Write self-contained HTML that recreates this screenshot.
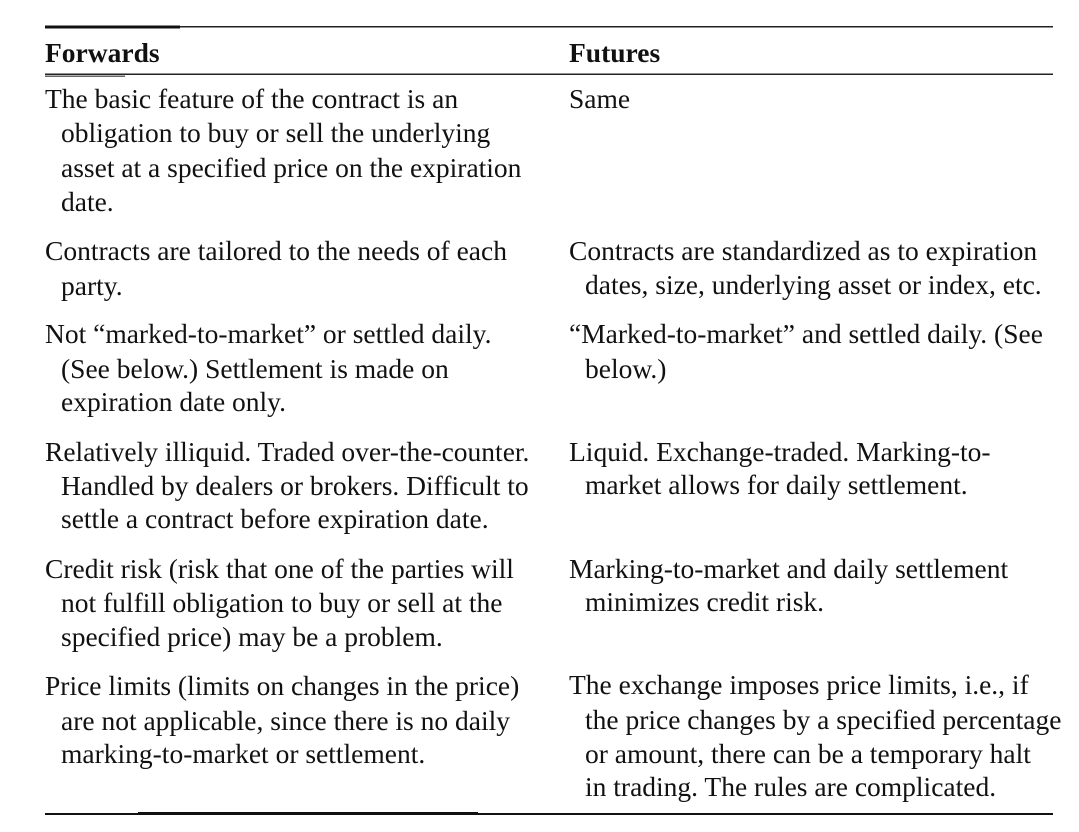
<!DOCTYPE html>
<html><head><meta charset="utf-8"><style>
html,body{margin:0;padding:0;background:#fff;width:1079px;height:832px;overflow:hidden}
svg text{font-family:"Liberation Serif",serif;font-size:27.5px;fill:#111}
</style></head><body>
<svg width="1079" height="832" xmlns="http://www.w3.org/2000/svg">
<rect x="45" y="26" width="1008" height="1.5" fill="#222"/>
<rect x="45" y="25.5" width="135" height="3" fill="#111"/>
<rect x="45" y="73.5" width="1008" height="1.5" fill="#222"/>
<rect x="45" y="75.5" width="80" height="1.5" fill="#666"/>
<rect x="45" y="813" width="1008" height="2" fill="#111"/>
<rect x="138" y="812" width="340" height="3" fill="#111"/>

<text x="45" y="62" font-weight="bold">Forwards</text>
<text x="569" y="62" font-weight="bold">Futures</text>

<text x="45" y="108">The basic feature of the contract is an</text>
<text x="61" y="142">obligation to buy or sell the underlying</text>
<text x="61" y="177">asset at a specified price on the expiration</text>
<text x="61" y="211">date.</text>
<text x="569" y="108">Same</text>

<text x="45" y="260">Contracts are tailored to the needs of each</text>
<text x="61" y="295">party.</text>
<text x="569" y="260">Contracts are standardized as to expiration</text>
<text x="585" y="294">dates, size, underlying asset or index, etc.</text>

<text x="45" y="343">Not “marked-to-market” or settled daily.</text>
<text x="61" y="378">(See below.) Settlement is made on</text>
<text x="61" y="411">expiration date only.</text>
<text x="569" y="343">“Marked-to-market” and settled daily. (See</text>
<text x="585" y="378">below.)</text>

<text x="45" y="461">Relatively illiquid. Traded over-the-counter.</text>
<text x="61" y="495">Handled by dealers or brokers. Difficult to</text>
<text x="61" y="528">settle a contract before expiration date.</text>
<text x="569" y="461">Liquid. Exchange-traded. Marking-to-</text>
<text x="585" y="494">market allows for daily settlement.</text>

<text x="45" y="578">Credit risk (risk that one of the parties will</text>
<text x="61" y="612">not fulfill obligation to buy or sell at the</text>
<text x="61" y="646">specified price) may be a problem.</text>
<text x="569" y="578">Marking-to-market and daily settlement</text>
<text x="585" y="611">minimizes credit risk.</text>

<text x="45" y="695">Price limits (limits on changes in the price)</text>
<text x="61" y="730">are not applicable, since there is no daily</text>
<text x="61" y="763">marking-to-market or settlement.</text>
<text x="569" y="694">The exchange imposes price limits, i.e., if</text>
<text x="585" y="729">the price changes by a specified percentage</text>
<text x="585" y="763">or amount, there can be a temporary halt</text>
<text x="585" y="796">in trading. The rules are complicated.</text>
</svg>
</body></html>
